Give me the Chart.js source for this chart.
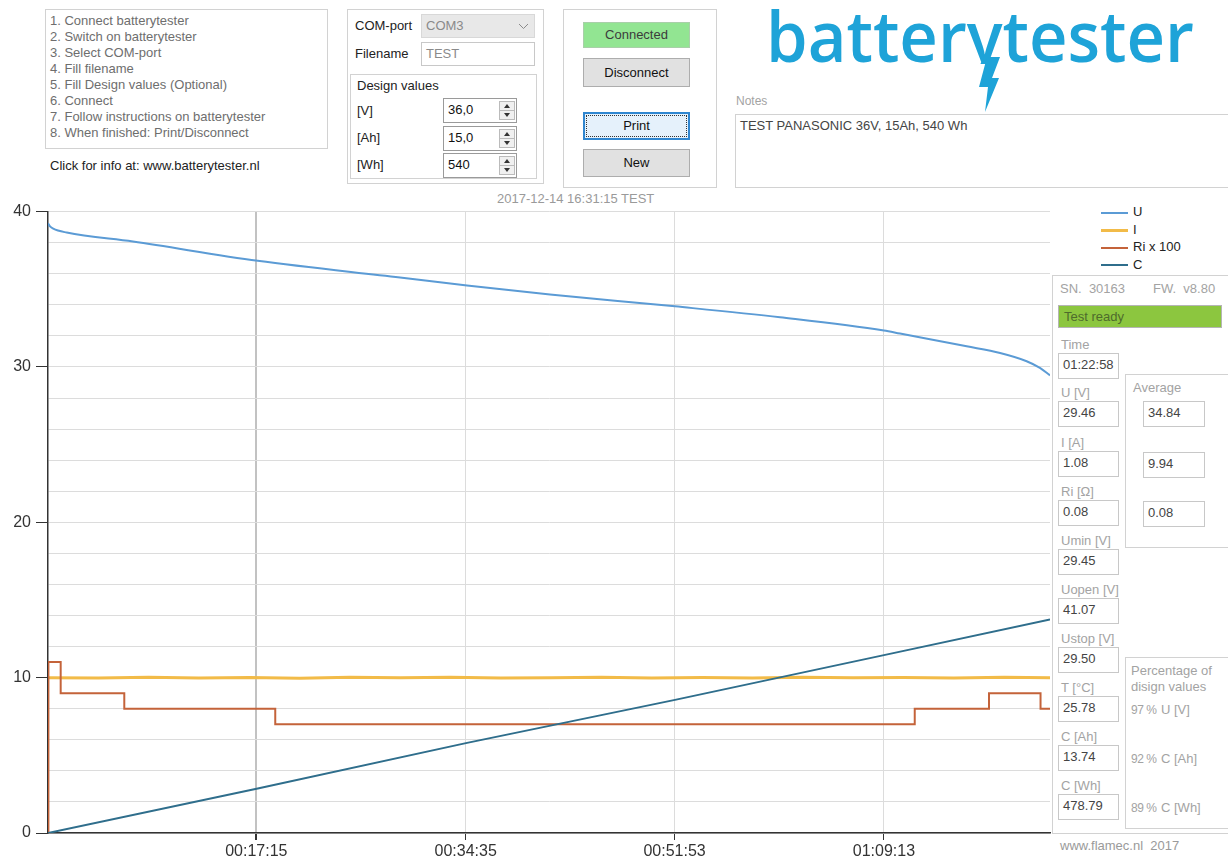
<!DOCTYPE html>
<html>
<head>
<meta charset="utf-8">
<title>batterytester</title>
<script src="https://cdn.jsdelivr.net/npm/chart.js@4.4.1/dist/chart.umd.min.js"></script>
<style>
  body { margin: 0; width: 1228px; height: 862px; background: #fff; overflow: hidden; position: relative;
         font-family: "Liberation Sans", Arial, sans-serif; font-size: 13px; color: #222; }
  .box { position: absolute; border: 1px solid #d2d2d2; box-sizing: border-box; }
  .t { position: absolute; white-space: nowrap; line-height: 16px; }
  .gray { color: #a3a3a3; }
  .input { position: absolute; border: 1px solid #c8c8c8; box-sizing: border-box; background: #fff;
           color: #444; padding-left: 4px; line-height: 22px; white-space: nowrap; }
  .num { border-color: #9a9a9a; color: #111; }
  .spin { position: absolute; right: 1px; top: 2px; width: 16px; height: 19px; }
  .btn { position: absolute; box-sizing: border-box; border: 1px solid #adadad; background: #e1e1e1;
         text-align: center; color: #111; }
  #myChart { position: absolute; left: 0; top: 197px; }
  #legend { position: absolute; left: 1101px; top: 203px; }
  #legend div { height: 17.5px; line-height: 17px; white-space: nowrap; }
  #legend span.l { display: inline-block; width: 27px; vertical-align: middle; margin-right: 5px; }
  #logo { position: absolute; left: 766px; top: -1px; font-family: 'Open Sans', sans-serif; font-weight: 600;
          font-size: 71px; line-height: 71px; color: #1ea3d8; white-space: nowrap; transform-origin: 0 0; }
  .pct { font-size: 12px; letter-spacing: -0.5px; }
</style>
</head>
<body>

<!-- instructions -->
<div class="box" style="left:45px; top:9px; width:283px; height:140px;"></div>
<div class="t" style="left:50px; top:13px; color:#6e6e6e;">
  1. Connect batterytester<br>2. Switch on batterytester<br>3. Select COM-port<br>4. Fill filename<br>
  5. Fill Design values (Optional)<br>6. Connect<br>7. Follow instructions on batterytester<br>8. When finished: Print/Disconnect
</div>
<div class="t" style="left:50px; top:158px;">Click for info at: www.batterytester.nl</div>

<!-- com port / design values -->
<div class="box" style="left:347px; top:9px; width:197px; height:175px;"></div>
<div class="t" style="left:355px; top:18px;">COM-port</div>
<div class="input" style="left:421px; top:14px; width:114px; height:24px; background:#e8e8e8; border-color:#d8d8d8; color:#8a8a8a;">COM3
  <svg style="position:absolute; right:5px; top:8px;" width="11" height="7"><polyline points="1,1 5.5,5.5 10,1" fill="none" stroke="#8a8a8a" stroke-width="1"/></svg>
</div>
<div class="t" style="left:355px; top:46px;">Filename</div>
<div class="input" style="left:421px; top:42px; width:114px; height:24px; color:#8a8a8a;">TEST</div>
<div class="box" style="left:350px; top:74px; width:187px; height:105px;"></div>
<div class="t" style="left:357px; top:78px;">Design values</div>
<div class="t" style="left:357px; top:103px;">[V]</div>
<div class="t" style="left:357px; top:130px;">[Ah]</div>
<div class="t" style="left:357px; top:157px;">[Wh]</div>
<div class="input num" style="left:443px; top:98px; width:74px; height:25px;">36,0<svg class="spin"><rect x="0.5" y="0.5" width="15" height="18" fill="#f0f0f0" stroke="#bbb"/><line x1="1" y1="9.5" x2="15" y2="9.5" stroke="#bbb"/><polygon points="5,7 11,7 8,3" fill="#333"/><polygon points="5,12 11,12 8,16" fill="#333"/></svg></div>
<div class="input num" style="left:443px; top:126px; width:74px; height:25px;">15,0<svg class="spin"><rect x="0.5" y="0.5" width="15" height="18" fill="#f0f0f0" stroke="#bbb"/><line x1="1" y1="9.5" x2="15" y2="9.5" stroke="#bbb"/><polygon points="5,7 11,7 8,3" fill="#333"/><polygon points="5,12 11,12 8,16" fill="#333"/></svg></div>
<div class="input num" style="left:443px; top:153px; width:74px; height:25px;">540<svg class="spin"><rect x="0.5" y="0.5" width="15" height="18" fill="#f0f0f0" stroke="#bbb"/><line x1="1" y1="9.5" x2="15" y2="9.5" stroke="#bbb"/><polygon points="5,7 11,7 8,3" fill="#333"/><polygon points="5,12 11,12 8,16" fill="#333"/></svg></div>

<!-- buttons -->
<div class="box" style="left:563px; top:9px; width:154px; height:179px;"></div>
<div class="btn" style="left:583px; top:22px; width:107px; height:26px; line-height:24px; background:#92e592; border-color:#a9cfa9; color:#3c3c3c;">Connected</div>
<div class="btn" style="left:583px; top:58px; width:107px; height:29px; line-height:27px;">Disconnect</div>
<div class="btn" style="left:583px; top:112px; width:107px; height:28px; line-height:24px; background:#e5f1fb; border:2px solid #2f86d0;">
  <div style="position:absolute; left:1px; top:1px; right:1px; bottom:1px; border:1px dotted #333;"></div>Print</div>
<div class="btn" style="left:583px; top:149px; width:107px; height:28px; line-height:26px;">New</div>

<!-- logo -->
<div id="logo">batterytester</div>
<svg style="position:absolute; left:950px; top:0;" width="70" height="115">
  <rect x="0" y="64" width="70" height="30" fill="#fff"/>
  <polygon points="37,57 50,57 42,78 49,78 35,112 38,87 29,87" fill="#1ea3d8"/>
</svg>

<!-- notes -->
<div class="t gray" style="left:736px; top:93px; font-size:12px;">Notes</div>
<div class="box" style="left:735px; top:114px; width:500px; height:74px;"></div>
<div class="t" style="left:740px; top:118px; color:#444;">TEST PANASONIC 36V, 15Ah, 540 Wh</div>

<!-- chart title -->
<div class="t" style="left:497px; top:191px; color:#9a9a9a;">2017-12-14 16:31:15 TEST</div>

<canvas id="myChart" width="1052" height="665"></canvas>
<div id="legend"></div>

<!-- right panel -->
<div class="box" style="left:1052px; top:275px; width:190px; height:559px;"></div>
<div class="t gray" style="left:1060px; top:281px;">SN.&nbsp; 30163</div>
<div class="t gray" style="left:1153px; top:281px;">FW.&nbsp; v8.80</div>
<div class="box" style="left:1058px; top:305px; width:164px; height:23px; background:#8cc63f; border-color:#b5b5b5;"></div>
<div class="t" style="left:1064px; top:309px; color:#4e6b2c;">Test ready</div>
<div id="fields"></div>

<div class="box" style="left:1125px; top:374px; width:120px; height:174px;"></div>
<div class="t gray" style="left:1133px; top:380px;">Average</div>
<div class="input" style="left:1143px; top:401px; width:62px; height:26px;">34.84</div>
<div class="input" style="left:1143px; top:452px; width:62px; height:26px;">9.94</div>
<div class="input" style="left:1143px; top:501px; width:62px; height:26px;">0.08</div>

<div class="box" style="left:1125px; top:657px; width:120px; height:172px;"></div>
<div class="t gray" style="left:1131px; top:663px;">Percentage of<br>disign values</div>
<div class="t gray pct" style="left:1131px; top:702px;">97 %</div><div class="t gray" style="left:1161px; top:702px;">U [V]</div>
<div class="t gray pct" style="left:1131px; top:751px;">92 %</div><div class="t gray" style="left:1161px; top:751px;">C [Ah]</div>
<div class="t gray pct" style="left:1131px; top:800px;">89 %</div><div class="t gray" style="left:1161px; top:800px;">C [Wh]</div>

<div class="t" style="left:1060px; top:838px; color:#9a9a9a;">www.flamec.nl&nbsp; 2017</div>

<script>
// x axis: seconds since start of the test
const endTime = 4978;
const xTickValues = [1035, 2075, 3113, 4153];
const xTickLabels = ['00:17:15', '00:34:35', '00:51:53', '01:09:13'];
const yLabelled = [0, 10, 20, 30, 40];

const seriesNames = ['U', 'I', 'Ri x 100', 'C'];
const seriesColors = ['#5b9bd5', '#f2bb48', '#c4633a', '#2f6e8c'];

const uTime = [0, 10, 26, 93, 422, 1042, 1749, 2082, 2494, 3115, 3637, 4153, 4233, 4564, 4730, 4862, 4928, 4978];
const uValues = [39.25, 39.05, 38.9, 38.65, 38.07, 36.83, 35.76, 35.25, 34.67, 33.9, 33.2, 32.35, 32.15, 31.33, 30.9, 30.37, 29.94, 29.46];

const iTime = [0, 250, 500, 750, 1000, 1250, 1500, 1750, 2000, 2250, 2500, 2750, 3000, 3250, 3500, 3750, 4000, 4250, 4500, 4750, 4978];
const iValues = [10.0, 9.97, 10.02, 9.98, 10.01, 9.96, 10.03, 9.99, 10.02, 9.97, 10.0, 10.03, 9.98, 10.01, 9.97, 10.02, 9.99, 10.01, 9.98, 10.02, 9.99];

const riTime = [0, 2, 63, 379, 1129, 4306, 4675, 4931, 4978];
const riValues = [0, 11, 9, 8, 7, 8, 9, 8, 8];

const cTime = [0, 1042, 2082, 3115, 4153, 4978];
const cValues = [0, 2.87, 5.8, 8.57, 11.45, 13.74];

// right panel readouts
const fieldLabels = ['Time', 'U [V]', 'I [A]', 'Ri [Ω]', 'Umin [V]', 'Uopen [V]', 'Ustop [V]', 'T [°C]', 'C [Ah]', 'C [Wh]'];
const fieldValues = ['01:22:58', '29.46', '1.08', '0.08', '29.45', '41.07', '29.50', '25.78', '13.74', '478.79'];
const fieldTops = [337, 385, 435, 484, 533, 582, 631, 680, 729, 778];

const fields = document.getElementById('fields');
fieldLabels.forEach((lab, i) => {
  fields.insertAdjacentHTML('beforeend',
    '<div class="t gray" style="left:1061px; top:' + fieldTops[i] + 'px;">' + lab + '</div>' +
    '<div class="input" style="left:1058px; top:' + (fieldTops[i] + 16) + 'px; width:61px; height:26px;">' + fieldValues[i] + '</div>');
});

// squeeze the logo to its width in the screenshot
const logo = document.getElementById('logo');
logo.style.transform = 'scaleX(' + (428 / logo.getBoundingClientRect().width) + ')';

function pts(xs, ys) {
  return xs.map((x, i) => ({ x: x, y: ys[i] }));
}

const ctx = document.getElementById('myChart');

const chart = new Chart(ctx, {
  type: 'line',
  data: {
    datasets: [
      { label: seriesNames[0], data: pts(uTime, uValues), borderColor: seriesColors[0], borderWidth: 2, cubicInterpolationMode: 'monotone', order: 1 },
      { label: seriesNames[1], data: pts(iTime, iValues), borderColor: seriesColors[1], borderWidth: 3, order: 3 },
      { label: seriesNames[2], data: pts(riTime, riValues), borderColor: seriesColors[2], borderWidth: 2, stepped: 'before', order: 2 },
      { label: seriesNames[3], data: pts(cTime, cValues), borderColor: seriesColors[3], borderWidth: 2, order: 0 }
    ]
  },
  options: {
    responsive: false,
    animation: false,
    devicePixelRatio: 1,
    elements: { point: { radius: 0 } },
    layout: { padding: { top: 10, right: 2, left: 0, bottom: 0 } },
    plugins: { legend: { display: false }, tooltip: { enabled: false } },
    scales: {
      x: {
        type: 'linear',
        min: 0,
        max: endTime,
        afterBuildTicks: (scale) => { scale.ticks = xTickValues.map(v => ({ value: v })); },
        afterFit: (scale) => { scale.height = 29; },
        ticks: {
          autoSkip: false,
          maxRotation: 0,
          padding: 2,
          color: '#333',
          font: { family: 'Liberation Sans', size: 16 },
          callback: (v, i) => xTickLabels[i]
        },
        grid: {
          color: (c) => c.index === 0 ? '#c2c2c2' : '#dcdcdc',
          lineWidth: (c) => c.index === 0 ? 2 : 1,
          tickColor: '#333',
          tickLength: 7
        },
        border: { color: '#333', width: 1.5 }
      },
      y: {
        min: 0,
        max: 40,
        afterFit: (scale) => { scale.width = 48; },
        ticks: {
          stepSize: 2,
          autoSkip: false,
          padding: 5,
          color: '#333',
          font: { family: 'Liberation Sans', size: 16 },
          callback: (v) => yLabelled.includes(v) ? String(v) : ''
        },
        grid: {
          color: '#dcdcdc',
          lineWidth: 1,
          tickLength: 12,
          tickColor: (c) => c.tick && yLabelled.includes(c.tick.value) ? '#333' : 'rgba(0,0,0,0)'
        },
        border: { color: '#333', width: 1.5 }
      }
    }
  }
});

// legend next to the plot
const legend = document.getElementById('legend');
chart.data.datasets.forEach((ds) => {
  legend.insertAdjacentHTML('beforeend',
    '<div><span class="l" style="border-top:' + (ds.label === 'I' ? 3 : 2) + 'px solid ' + ds.borderColor + ';"></span>' + ds.label + '</div>');
});
</script>
</body>
</html>
